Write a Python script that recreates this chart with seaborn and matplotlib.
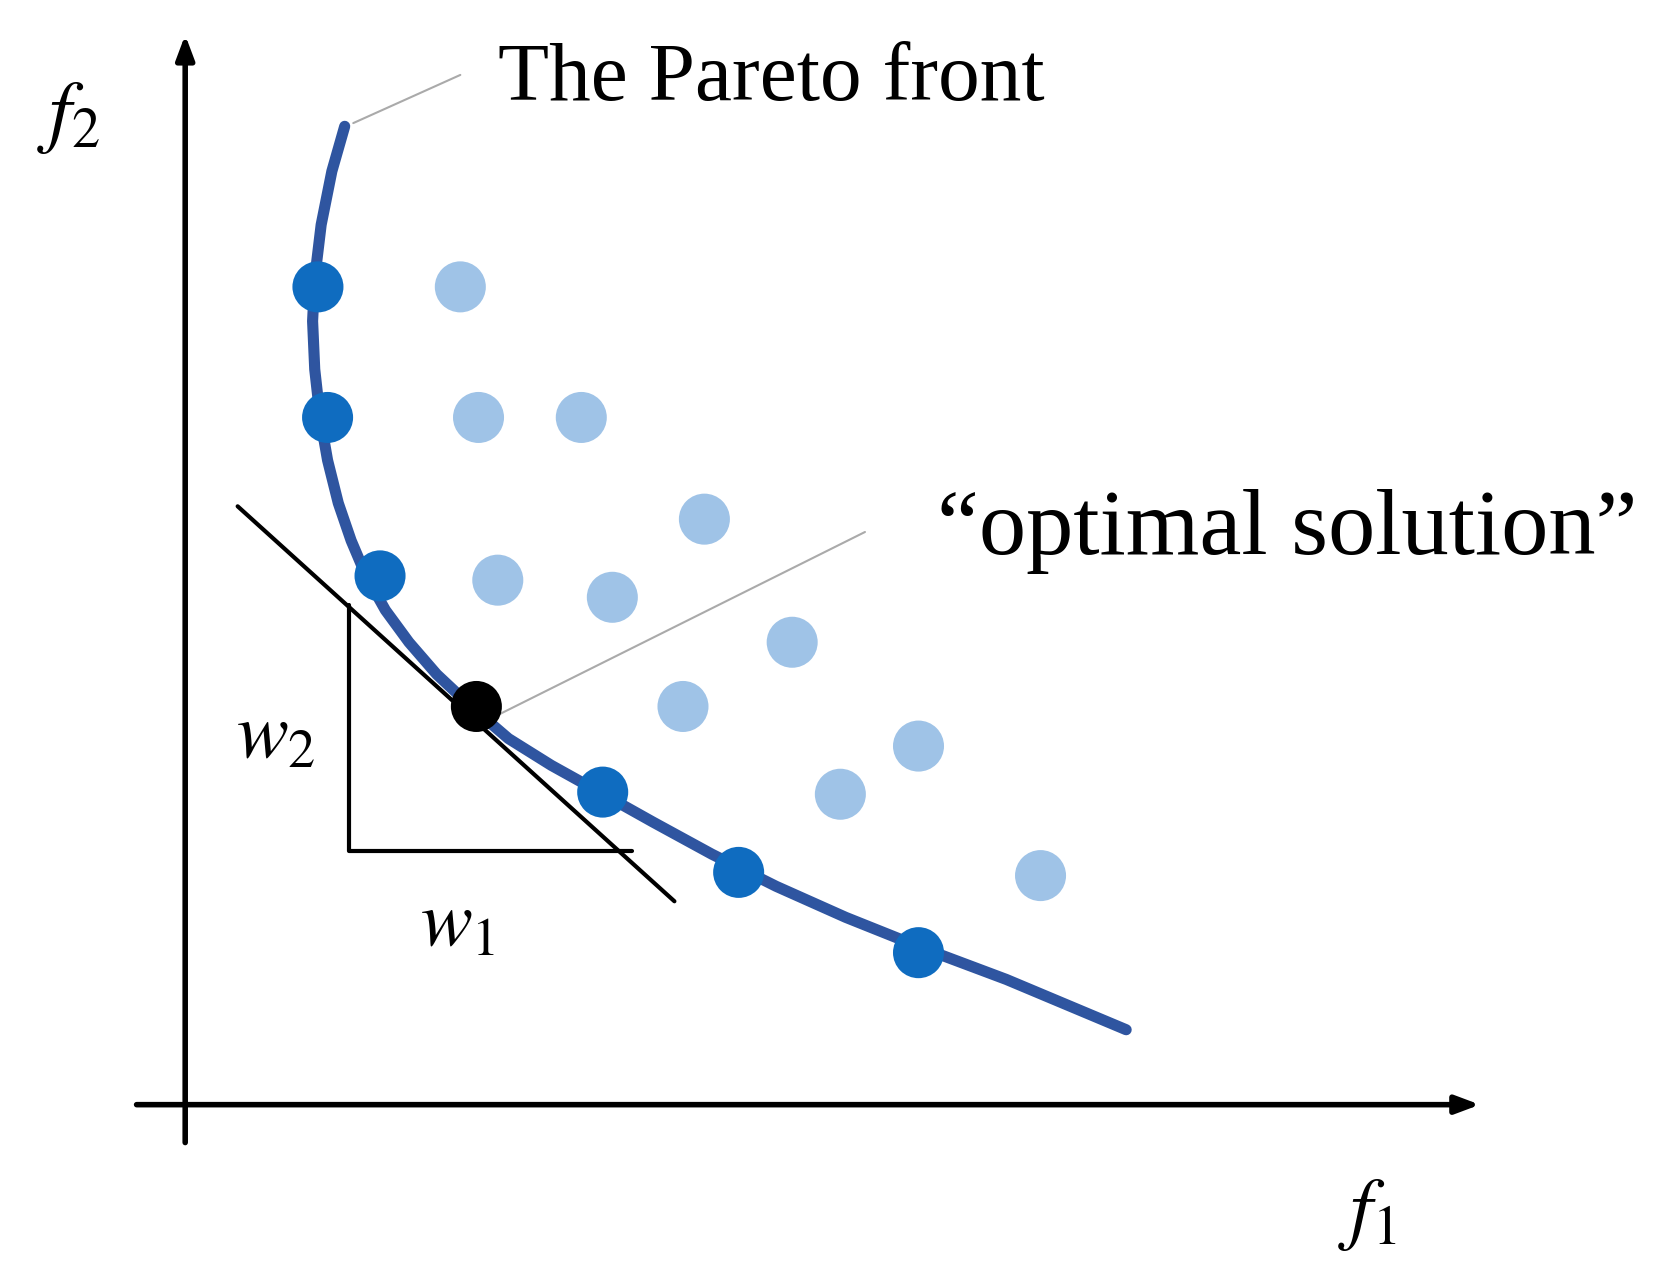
import matplotlib
matplotlib.use("Agg")
import matplotlib.pyplot as plt
import seaborn as sns

# diagram coordinates (pixel-like units, y downward)
front_x = [297, 306, 355, 563, 690, 858]
front_y = [268, 390, 538, 740, 815, 890]
opt_x = [445]
opt_y = [660]
dom_x = [430, 447, 543, 658, 465, 572, 740, 638, 858, 785, 972]
dom_y = [268, 390, 390, 485, 542, 558, 600, 660, 697, 742, 818]
curve_x = [322, 310, 300, 294, 292, 294, 299, 306, 316, 328, 342, 360, 382, 408, 440, 475, 515, 560, 610, 665, 725, 790, 860, 940, 1052]
curve_y = [118, 160, 210, 260, 300, 345, 390, 430, 470, 505, 538, 570, 600, 630, 660, 690, 715, 740, 768, 798, 828, 857, 885, 915, 962]

sns.set_theme(style="white")
plt.rcParams['font.family'] = ['Liberation Serif', 'DejaVu Serif']
plt.rcParams['mathtext.fontset'] = 'stix'

fig = plt.figure(figsize=(16.7, 12.77), dpi=100)
ax = fig.add_axes([0, 0, 1, 1])
ax.set_xlim(0, 1560)
ax.set_ylim(1193, 0)
ax.axis('off')

ax.annotate('', xy=(173, 30), xytext=(173, 1070),
            arrowprops=dict(arrowstyle='-|>,head_length=1.2,head_width=0.45', lw=4, color='black'))
ax.annotate('', xy=(1385, 1032), xytext=(125, 1032),
            arrowprops=dict(arrowstyle='-|>,head_length=1.2,head_width=0.45', lw=4, color='black'))

sns.lineplot(x=curve_x, y=curve_y, sort=False, ax=ax, color='#2f55a0', lw=8, estimator=None)

ax.plot([222, 630], [473, 842], color='black', lw=3)
ax.plot([326, 326, 590], [565, 795, 795], color='black', lw=3)

ax.plot([330, 430], [115, 70], color='#aaaaaa', lw=1.5)
ax.plot([465, 808], [668, 497], color='#aaaaaa', lw=1.5)

sns.scatterplot(x=dom_x, y=dom_y, ax=ax, s=1350, color='#9fc3e7', edgecolor='none', zorder=3)
sns.scatterplot(x=front_x, y=front_y, ax=ax, s=1350, color='#0f6cc0', edgecolor='none', zorder=4)
sns.scatterplot(x=opt_x, y=opt_y, ax=ax, s=1350, color='black', edgecolor='none', zorder=5)

ax.text(465, 75, 'The Pareto front', fontsize=60, va='center', ha='left', color='black')
ax.text(875, 497, '\u201coptimal solution\u201d', fontsize=68, va='center', ha='left', color='black')
ax.text(35, 110, '$f_2$', fontsize=58, va='center', ha='left', color='black')
ax.text(1250, 1135, '$f_1$', fontsize=58, va='center', ha='left', color='black')
ax.text(220, 690, '$w_2$', fontsize=56, va='center', ha='left', color='black')
ax.text(392, 865, '$w_1$', fontsize=56, va='center', ha='left', color='black')

fig.savefig('out.png', dpi=100, facecolor='white')
